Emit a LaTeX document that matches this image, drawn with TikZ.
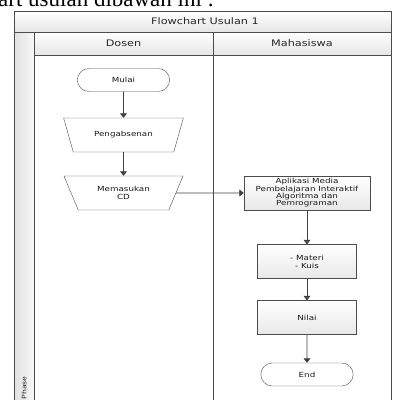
\documentclass[tikz,border=0pt]{standalone}
\usepackage{fontspec}
\setmainfont{Liberation Serif}
\newfontfamily\visio[FakeStretch=1.25]{DejaVu Sans}
\usetikzlibrary{shapes.geometric,shapes.misc,arrows.meta}

\tikzset{
  lane/.style={draw=black!70, line width=0.8pt},
  lanetitle/.style={font=\visio\fontsize{9}{10}\selectfont, text=black!85},
  boxtext/.style={font=\visio\fontsize{7}{8}\selectfont, text=black!90, align=center},
  terminal/.style={boxtext, rounded rectangle, draw=black!70, fill=white,
    minimum width=99pt, minimum height=23pt},
  manual/.style={boxtext, trapezium, shape border rotate=180,
    trapezium left angle=65, trapezium right angle=65, trapezium stretches=true,
    draw=black!70, fill=white, minimum width=120pt, minimum height=34pt},
  process/.style={boxtext, rectangle, draw=black!70, top color=white,
    bottom color=black!9, inner sep=1pt, minimum height=34pt},
  flow/.style={-{Triangle[length=4.5pt,width=7pt]}, draw=black!75, line width=0.8pt},
}

\begin{document}
\begin{tikzpicture}[x=1pt,y=-1pt]
    \useasboundingbox (0,0) rectangle (392,400);

    % Text of the page above the chart
    \node[anchor=base west, inner sep=0pt, font=\fontsize{23}{23}\selectfont] (caption) at (-2,6.5) {art usulan dibawah ini :};

    % Swimlanes
    \fill[top color=white, bottom color=black!10] (14,11) rectangle (391,32);
    \fill[top color=white, bottom color=black!10] (34,32) rectangle (391,55);
    \fill[left color=black!12, right color=black!3] (14,32) rectangle (34,402);
    \draw[lane] (14,402) -- (14,11) -- (391,11) -- (391,402);
    \draw[lane] (14,32) -- (391,32);
    \draw[lane] (34,55) -- (391,55);
    \draw[lane] (34,32) -- (34,402);
    \draw[lane] (213,32) -- (213,402);

    \node[lanetitle] (title) at (205,21.5) {Flowchart Usulan 1};
    \node[lanetitle] (dosen) at (123.5,43.5) {Dosen};
    \node[lanetitle] (mahasiswa) at (302,43.5) {Mahasiswa};
    \node[font=\visio\fontsize{6.2}{7}\selectfont, text=black!85, rotate=90] (phase) at (24,388) {Phase};

    % Dosen
    \node[terminal] (mulai) at (123.5,80) {Mulai};
    \node[manual] (absen) at (123.5,135) {Pengabsenan};
    \node[manual] (cd) at (123.5,193) {Memasukan\\CD};

    % Mahasiswa
    \node[process, minimum width=126pt, inner sep=0.5pt, font=\visio\fontsize{7}{7.3}\selectfont] (aplikasi) at (307,193) {Aplikasi Media\\Pembelajaran Interaktif\\Algoritma dan\\Pemrograman};
    \node[process, minimum width=99pt] (materi) at (307,261.5) {- Materi\\- Kuis};
    \node[process, minimum width=99pt] (nilai) at (307,317.5) {Nilai};
    \node[terminal] (end) at (307,374.5) {End};

    % Connections
    \draw[flow] (mulai) -- (absen);
    \draw[flow] (absen) -- (cd);
    \draw[flow] (cd.east) -- (aplikasi.west);
    \draw[flow] (aplikasi) -- (materi);
    \draw[flow] (materi) -- (nilai);
    \draw[flow] (nilai) -- (end);
\end{tikzpicture}
\end{document}
